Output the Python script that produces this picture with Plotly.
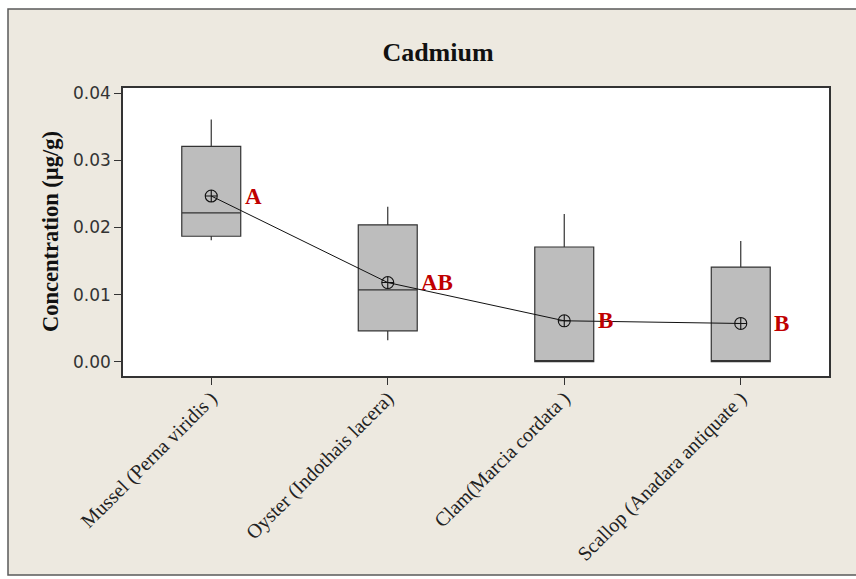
import plotly.graph_objects as go

# Cadmium concentration by species (µg/g)
species = [
    "Mussel (Perna viridis )",
    "Oyster (Indothais lacera)",
    "Clam(Marcia cordata )",
    "Scallop (Anadara antiquate )",
]
whisker_low = [0.0181, 0.0032, 0.0, 0.0]
q1 = [0.0187, 0.0046, 0.0, 0.0]
median = [0.0222, 0.0107, 0.0, 0.0]
q3 = [0.0321, 0.0204, 0.0171, 0.0141]
whisker_high = [0.0361, 0.0231, 0.0220, 0.0180]
means = [0.0247, 0.0118, 0.0061, 0.0057]
groups = ["A", "AB", "B", "B"]

ytick_vals = [0.00, 0.01, 0.02, 0.03, 0.04]
ytick_text = ["0.00", "0.01", "0.02", "0.03", "0.04"]

W, H = 856, 579
L, R, T, B = 123, 27, 88, 203
pw, ph = W - L - R, H - T - B

def px_x(p):
    return (p - L) / pw

def px_y(p):
    return (H - B - p) / ph

xs = list(range(len(species)))
box_w = 0.334

fig = go.Figure()

fig.add_trace(go.Box(
    x=xs,
    q1=q1, median=median, q3=q3,
    lowerfence=whisker_low, upperfence=whisker_high,
    width=box_w, whiskerwidth=0,
    fillcolor="#bdbdbd",
    line=dict(color="#333333", width=1.2),
    boxpoints=False,
    hoverinfo="skip",
    showlegend=False,
))

fig.add_trace(go.Scatter(
    x=xs, y=means,
    mode="lines+markers",
    line=dict(color="#111111", width=1),
    marker=dict(symbol="circle-cross-open", size=12,
                color="#111111", line=dict(width=1.1, color="#111111")),
    showlegend=False,
    hoverinfo="skip",
))

for i, (m, g) in enumerate(zip(means, groups)):
    fig.add_annotation(
        x=i + box_w / 2, y=m, text=f"<b>{g}</b>",
        xref="x", yref="y", xanchor="left", yanchor="middle",
        xshift=2, showarrow=False,
        font=dict(family="Liberation Serif", size=23, color="#c00000"),
    )

# outer frame and white plotting area
fig.add_shape(type="rect", xref="paper", yref="paper",
              x0=px_x(8), x1=px_x(920), y0=px_y(575), y1=px_y(9),
              fillcolor="#ede9e0", line=dict(color="#5a5a5a", width=1.5),
              layer="below")
fig.add_shape(type="rect", xref="paper", yref="paper",
              x0=0, x1=1, y0=0, y1=1,
              fillcolor="white", line=dict(width=0), layer="below")

fig.add_annotation(
    x=px_x(50), y=px_y(232), xref="paper", yref="paper",
    text="<b>Concentration (µg/g)</b>", textangle=-90,
    xanchor="center", yanchor="middle", showarrow=False,
    font=dict(family="Liberation Serif", size=22.5, color="#111111"),
)

fig.update_layout(
    width=W, height=H,
    margin=dict(l=L, r=R, t=T, b=B),
    paper_bgcolor="white",
    plot_bgcolor="white",
    title=dict(text="<b>Cadmium</b>", x=438 / W, xanchor="center",
               y=1 - 52 / H, yanchor="middle",
               font=dict(family="Liberation Serif", size=26, color="#111111")),
    xaxis=dict(
        range=[-0.5, 3.5], tickvals=xs, ticktext=species,
        tickangle=-45, ticks="outside", ticklen=7, tickcolor="#333",
        ticklabelstandoff=-6,
        showline=True, linecolor="#333", linewidth=1.5, mirror=True,
        showgrid=False, zeroline=False,
        tickfont=dict(family="Liberation Serif", size=20, color="#222222"),
    ),
    yaxis=dict(
        range=[-0.00213, 0.0408], tickvals=ytick_vals, ticktext=ytick_text,
        ticks="outside", ticklen=7, tickcolor="#333",
        showline=True, linecolor="#333", linewidth=1.5, mirror=True,
        showgrid=False, zeroline=False,
        tickfont=dict(family="DejaVu Sans", size=17, color="#333333"),
    ),
)

fig.write_html("out.html")
